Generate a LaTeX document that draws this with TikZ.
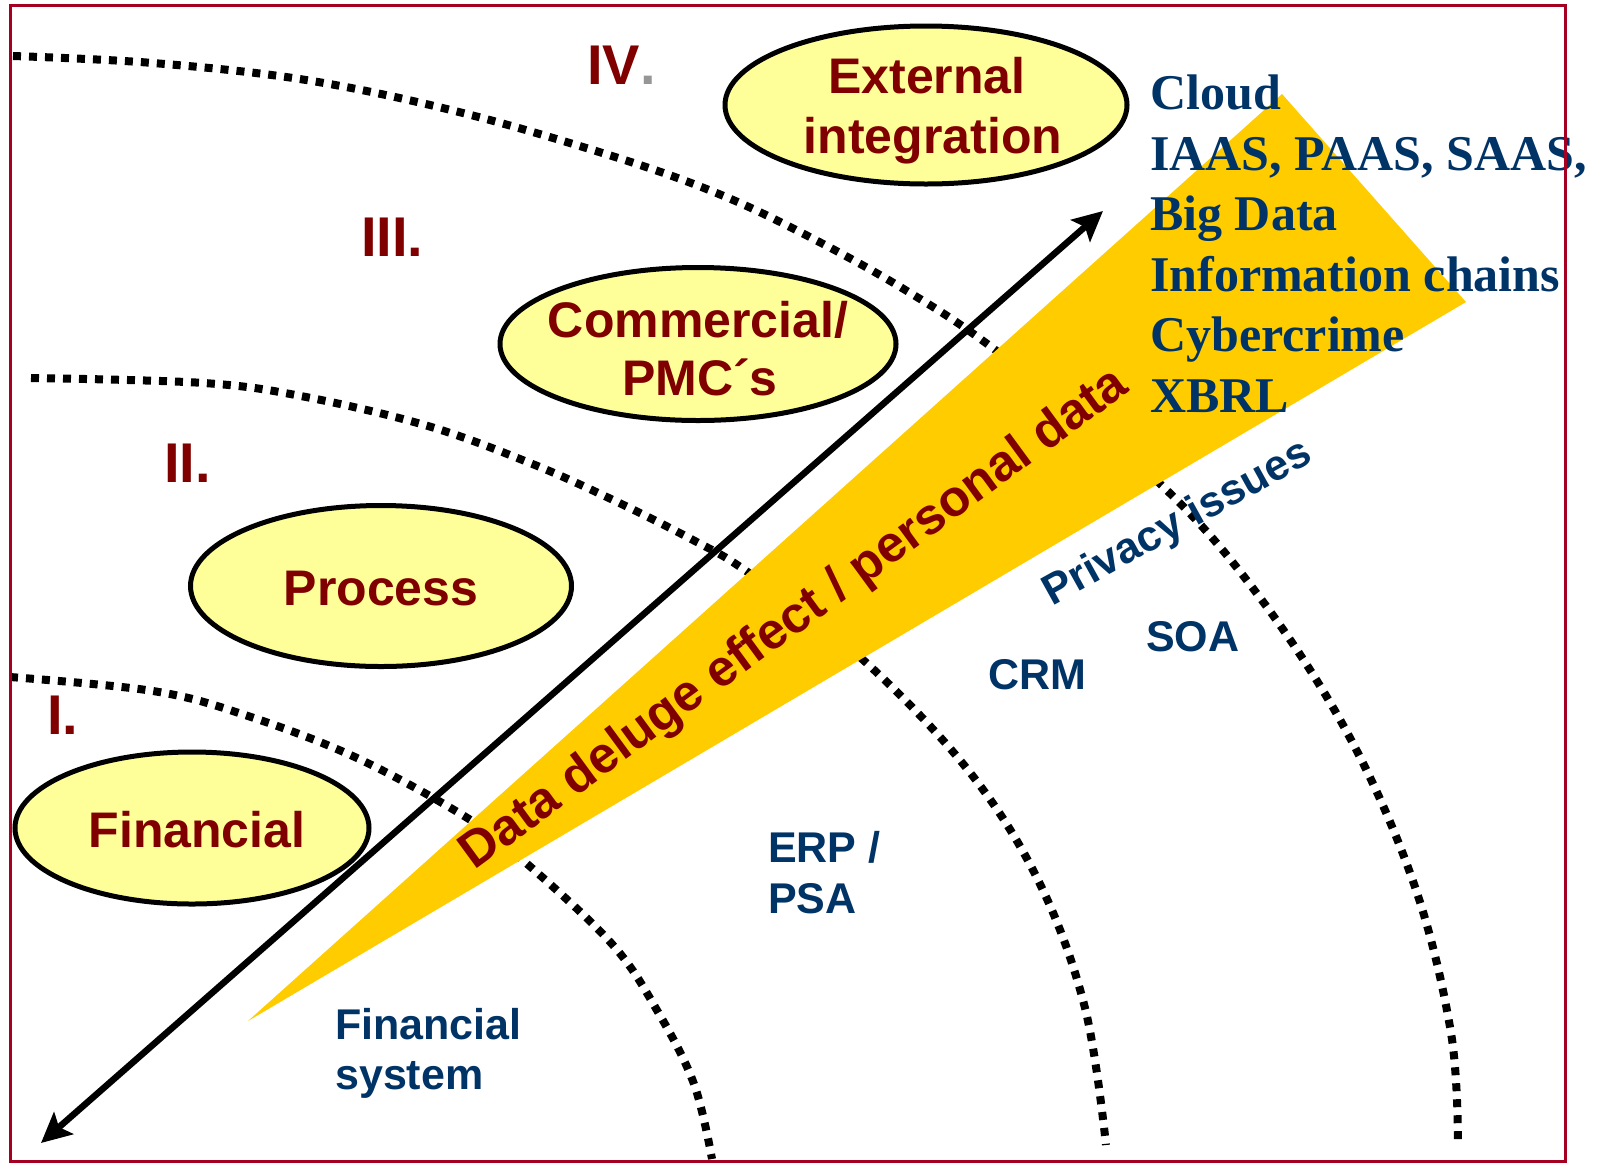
\documentclass[tikz,border=0pt]{standalone}
\usepackage{fontspec}
\setmainfont{Liberation Sans}
\newfontfamily\serifb{Liberation Serif}
\usetikzlibrary{shapes.geometric,arrows.meta}
\definecolor{framered}{RGB}{165,0,33}
\definecolor{darkred}{RGB}{128,0,0}
\definecolor{navy}{RGB}{0,51,102}
\definecolor{wedgeyellow}{RGB}{255,204,0}
\definecolor{ellfill}{RGB}{255,255,153}
\definecolor{dotgray}{RGB}{150,150,150}
\begin{document}
\begin{tikzpicture}[x=1pt,y=-1pt,
  ellshape/.style={ellipse, draw=black, line width=5pt, fill=ellfill, inner sep=0pt, outer sep=0pt},
  elltext/.style={text=darkred, font=\bfseries\fontsize{50}{59}\selectfont, anchor=base, inner sep=0pt},
  roman/.style={text=darkred, font=\bfseries\fontsize{56}{60}\selectfont, anchor=base west, inner sep=0pt},
  bluelab/.style={text=navy, font=\bfseries\fontsize{43}{50}\selectfont, anchor=base west, inner sep=0pt},
  serlab/.style={text=navy, font=\serifb\bfseries\fontsize{50}{60}\selectfont, anchor=base west, inner sep=0pt},
  arcdots/.style={line width=8pt, dash pattern=on 8pt off 8pt},
  bigarrow/.style={line width=6.5pt, {Stealth[length=30pt,width=29pt,inset=6pt]}-{Stealth[length=30pt,width=29pt,inset=6pt]}}
]
\useasboundingbox (0,0) rectangle (1597,1163);
\fill[white] (0,0) rectangle (1597,1163);

% dotted arcs
\draw[arcdots] plot[smooth,tension=0.6] coordinates {(10,677) (153,691) (245,715) (357,758) (469,819) (525,862) (612,944) (658,1012) (694,1084) (712,1159)};
\draw[arcdots] plot[smooth,tension=0.6] coordinates {(31,378) (204,383) (306,397) (428,426) (530,463) (611,499) (693,540) (749,573) (861,658) (968,770) (1039,882) (1085,1008) (1106,1145)};
\draw[arcdots] plot[smooth,tension=0.6] coordinates {(13,56) (153,63) (306,80) (459,112) (612,156) (714,192) (800,232) (902,288) (998,352) (1156,480) (1258,595) (1349,736) (1415,887) (1451,1033) (1458,1145)};

% yellow wedge
\coordinate (w1) at (248,1021);
\coordinate (w2) at (1282,94);
\coordinate (w3) at (1466,302);
\fill[wedgeyellow] (w1) -- (w2) -- (w3) -- cycle;

% ellipses
\node[ellshape, minimum width=402pt, minimum height=158pt] (external) at (926,105) {};
\node[ellshape, minimum width=396pt, minimum height=153pt] (commercial) at (698,344) {};
\node[ellshape, minimum width=381pt, minimum height=161pt] (process) at (381,586) {};
\node[ellshape, minimum width=354pt, minimum height=152pt] (financial) at (192,828) {};

\node[elltext] (t1a) at (927,93) {External};
\node[elltext] (t1b) at (933,153) {integration};
\node[elltext] (t2a) at (698,337) {Commercial/};
\node[elltext] (t2b) at (700,395) {PMC´s};
\node[elltext] (t3) at (381,605) {Process};
\node[elltext] (t4) at (197,847) {Financial};

% double arrow
\coordinate (arrA) at (41,1143);
\coordinate (arrB) at (1103,211);
\draw[bigarrow] (arrA) -- (arrB);

% roman numerals
\node[roman] (r4) at (587,84) {IV\textcolor{dotgray}{.}};
\node[roman] (r3) at (361,256) {III.};
\node[roman] (r2) at (164,482) {II.};
\node[roman] (r1) at (47,734) {I.};

% wedge text
\node[text=darkred, font=\bfseries\fontsize{51}{60}\selectfont, rotate=36.2, inner sep=0pt] (deluge) at (795,620) {Data deluge effect / personal data};

% blue labels
\node[bluelab] (fs1) at (335,1039) {Financial};
\node[bluelab] (fs2) at (335,1089) {system};
\node[bluelab] (erp1) at (768,862) {ERP /};
\node[bluelab] (erp2) at (768,913) {PSA};
\node[bluelab] (crm) at (988,689) {CRM};
\node[bluelab] (soa) at (1146,651) {SOA};
\node[text=navy, font=\bfseries\fontsize{43}{50}\selectfont, rotate=29, inner sep=0pt] (privacy) at (1178,524) {Privacy issues};

% serif list
\node[serlab] (s1) at (1150,109.5) {Cloud};
\node[serlab] (s2) at (1150,170) {IAAS, PAAS, SAAS,};
\node[serlab] (s3) at (1150,230.5) {Big Data};
\node[serlab] (s4) at (1150,291) {Information chains};
\node[serlab] (s5) at (1150,351.5) {Cybercrime};
\node[serlab] (s6) at (1150,412) {XBRL};

% frame
\draw[framered, line width=3pt] (10,5) rectangle (1565,1161);
\end{tikzpicture}
\end{document}
